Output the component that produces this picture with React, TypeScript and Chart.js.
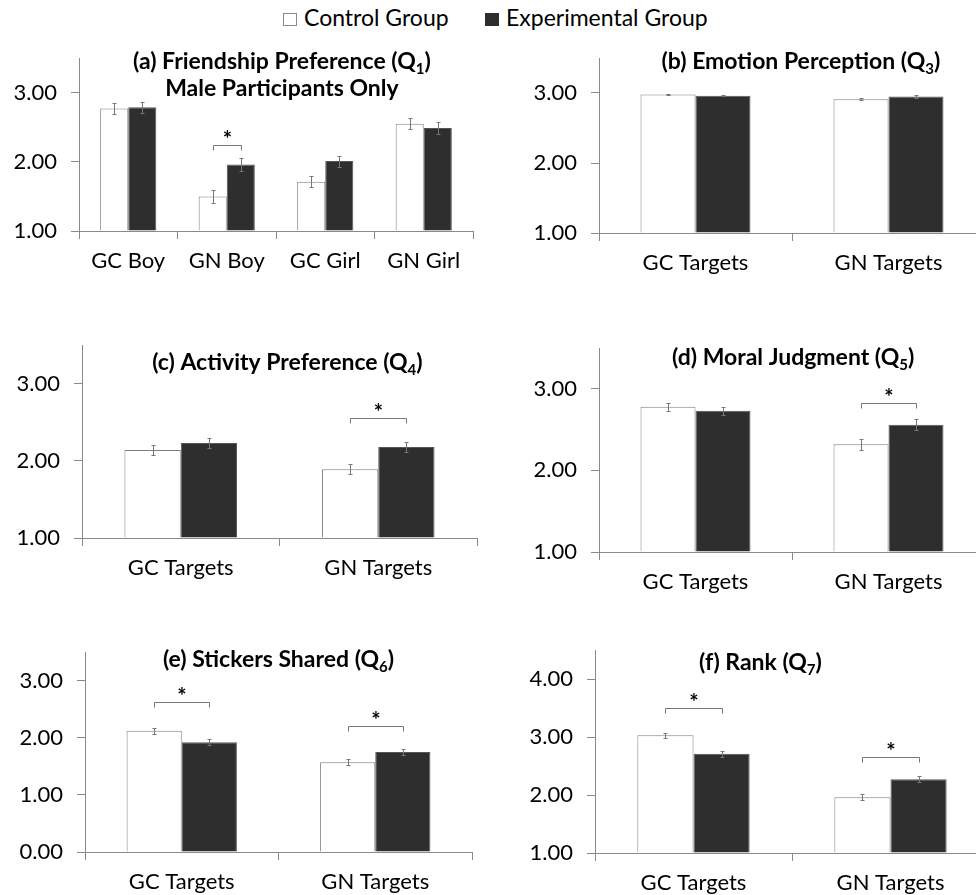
import React, { useEffect, useRef } from "react";
import { Chart, registerables } from "chart.js";

Chart.register(...registerables);

// ---------- data ----------
const seriesNames = ["Control Group", "Experimental Group"];

// (a) Friendship Preference
const catsA = ["GC Boy", "GN Boy", "GC Girl", "GN Girl"];
const ctrlA = [2.77, 1.5, 1.71, 2.55];
const expA = [2.79, 1.96, 2.01, 2.49];
const ctrlErrA = [0.08, 0.09, 0.08, 0.08];
const expErrA = [0.08, 0.09, 0.08, 0.085];
const sigA = [null, 2.25, null, null];
const ticksA = [1, 2, 3];

// (b) Emotion Perception
const catsB = ["GC Targets", "GN Targets"];
const ctrlB = [2.98, 2.91];
const expB = [2.96, 2.95];
const ctrlErrB = [0.01, 0.015];
const expErrB = [0.01, 0.015];
const sigB = [null, null];
const ticksB = [1, 2, 3];

// (c) Activity Preference
const catsC = ["GC Targets", "GN Targets"];
const ctrlC = [2.14, 1.89];
const expC = [2.23, 2.18];
const ctrlErrC = [0.06, 0.065];
const expErrC = [0.06, 0.065];
const sigC = [null, 2.56];
const ticksC = [1, 2, 3];

// (d) Moral Judgment
const catsD = ["GC Targets", "GN Targets"];
const ctrlD = [2.78, 2.32];
const expD = [2.73, 2.56];
const ctrlErrD = [0.05, 0.07];
const expErrD = [0.05, 0.07];
const sigD = [null, 2.82];
const ticksD = [1, 2, 3];

// (e) Stickers Shared
const catsE = ["GC Targets", "GN Targets"];
const ctrlE = [2.12, 1.57];
const expE = [1.92, 1.75];
const ctrlErrE = [0.05, 0.05];
const expErrE = [0.05, 0.05];
const sigE = [2.62, 2.2];
const ticksE = [0, 1, 2, 3];

// (f) Rank
const catsF = ["GC Targets", "GN Targets"];
const ctrlF = [3.03, 1.96];
const expF = [2.71, 2.27];
const ctrlErrF = [0.04, 0.05];
const expErrF = [0.05, 0.05];
const sigF = [3.5, 2.66];
const ticksF = [1, 2, 3, 4];

// ---------- style ----------
const FONT = "Lato, 'Open Sans', sans-serif";
const AXIS = "#8a8a8a";
const ERR = "#777777";
const DARK = "#2e2e2e";
const Y_W = 72;
const X_H = 48;
const PAD_T = 24;
const PAD_R = 2;

type Panel = {
  cats: string[];
  ctrl: number[];
  exp: number[];
  ctrlErr: number[];
  expErr: number[];
  sig: (number | null)[];
  yMin: number;
  yMax: number;
  yTicks: number[];
  title: string;
  sub: string;
  title2?: string;
  box: { x0: number; x1: number; top: number; bottom: number };
  titleFx: number;
  titleDy: number;
};

const panels: Panel[] = [
  { cats: catsA, ctrl: ctrlA, exp: expA, ctrlErr: ctrlErrA, expErr: expErrA, sig: sigA, yMin: 1, yMax: 3.5, yTicks: ticksA,
    title: "(a) Friendship Preference (Q", sub: "1", title2: "Male Participants Only",
    box: { x0: 79, x1: 473, top: 58, bottom: 231 }, titleFx: 0.515, titleDy: 4 },
  { cats: catsB, ctrl: ctrlB, exp: expB, ctrlErr: ctrlErrB, expErr: expErrB, sig: sigB, yMin: 1, yMax: 3.5, yTicks: ticksB,
    title: "(b) Emotion Perception (Q", sub: "3",
    box: { x0: 599, x1: 985, top: 58, bottom: 233 }, titleFx: 0.523, titleDy: 4 },
  { cats: catsC, ctrl: ctrlC, exp: expC, ctrlErr: ctrlErrC, expErr: expErrC, sig: sigC, yMin: 1, yMax: 3.5, yTicks: ticksC,
    title: "(c) Activity Preference (Q", sub: "4",
    box: { x0: 82, x1: 477, top: 345, bottom: 538 }, titleFx: 0.52, titleDy: 18 },
  { cats: catsD, ctrl: ctrlD, exp: expD, ctrlErr: ctrlErrD, expErr: expErrD, sig: sigD, yMin: 1, yMax: 3.5, yTicks: ticksD,
    title: "(d) Moral Judgment (Q", sub: "5",
    box: { x0: 599, x1: 985, top: 348, bottom: 552 }, titleFx: 0.503, titleDy: 10 },
  { cats: catsE, ctrl: ctrlE, exp: expE, ctrlErr: ctrlErrE, expErr: expErrE, sig: sigE, yMin: 0, yMax: 3.5, yTicks: ticksE,
    title: "(e) Stickers Shared (Q", sub: "6",
    box: { x0: 85, x1: 472, top: 652, bottom: 852 }, titleFx: 0.5, titleDy: 8 },
  { cats: catsF, ctrl: ctrlF, exp: expF, ctrlErr: ctrlErrF, expErr: expErrF, sig: sigF, yMin: 1, yMax: 4.5, yTicks: ticksF,
    title: "(f) Rank (Q", sub: "7",
    box: { x0: 595, x1: 989, top: 650, bottom: 853 }, titleFx: 0.42, titleDy: 13 },
];

function PanelChart({ p }: { p: Panel }) {
  const ref = useRef<HTMLCanvasElement>(null);
  const left = p.box.x0 - Y_W;
  const top = p.box.top - PAD_T;
  const width = p.box.x1 - p.box.x0 + Y_W + PAD_R;
  const height = p.box.bottom - p.box.top + PAD_T + X_H;

  useEffect(() => {
    if (!ref.current) return;
    const decor = {
      id: "decor",
      afterDatasetsDraw(chart: any) {
        const ctx = chart.ctx as CanvasRenderingContext2D;
        const ys = chart.scales.y;
        const area = chart.chartArea;
        ctx.save();
        // error bars
        [p.ctrlErr, p.expErr].forEach((errs, di) => {
          const vals = di === 0 ? p.ctrl : p.exp;
          const meta = chart.getDatasetMeta(di);
          meta.data.forEach((el: any, i: number) => {
            const x = Math.round(el.x) + 0.5;
            const y1 = Math.round(ys.getPixelForValue(vals[i] + errs[i])) + 0.5;
            const y2 = Math.round(ys.getPixelForValue(vals[i] - errs[i])) + 0.5;
            ctx.strokeStyle = ERR;
            ctx.lineWidth = 1;
            ctx.beginPath();
            ctx.moveTo(x, y1);
            ctx.lineTo(x, y2);
            ctx.moveTo(x - 2, y1);
            ctx.lineTo(x + 2, y1);
            ctx.moveTo(x - 2, y2);
            ctx.lineTo(x + 2, y2);
            ctx.stroke();
          });
        });
        // significance brackets
        p.sig.forEach((lvl, i) => {
          if (lvl == null) return;
          const xa = Math.round(chart.getDatasetMeta(0).data[i].x) + 0.5;
          const xb = Math.round(chart.getDatasetMeta(1).data[i].x) + 0.5;
          const y = Math.round(ys.getPixelForValue(lvl)) + 0.5;
          ctx.strokeStyle = ERR;
          ctx.lineWidth = 1;
          ctx.beginPath();
          ctx.moveTo(xa, y + 5);
          ctx.lineTo(xa, y);
          ctx.lineTo(xb, y);
          ctx.lineTo(xb, y + 5);
          ctx.stroke();
          ctx.fillStyle = "#000";
          ctx.font = `bold 22px ${FONT}`;
          ctx.textAlign = "center";
          ctx.textBaseline = "alphabetic";
          ctx.fillText("*", (xa + xb) / 2, y + 1);
        });
        // title
        const cx = area.left + p.titleFx * (area.right - area.left);
        const cy = area.top + p.titleDy;
        const mainFont = `bold 23px ${FONT}`;
        const subFont = `bold 15px ${FONT}`;
        ctx.fillStyle = "#000";
        ctx.textBaseline = "middle";
        ctx.textAlign = "left";
        ctx.font = mainFont;
        const w1 = ctx.measureText(p.title).width;
        const w3 = ctx.measureText(")").width;
        ctx.font = subFont;
        const w2 = ctx.measureText(p.sub).width;
        let x = cx - (w1 + w2 + w3) / 2;
        ctx.font = mainFont;
        ctx.fillText(p.title, x, cy);
        x += w1;
        ctx.font = subFont;
        ctx.fillText(p.sub, x, cy + 7);
        x += w2;
        ctx.font = mainFont;
        ctx.fillText(")", x, cy);
        if (p.title2) {
          ctx.textAlign = "center";
          ctx.fillText(p.title2, cx, cy + 27);
        }
        ctx.restore();
      },
    };

    const chart = new Chart(ref.current, {
      type: "bar",
      data: {
        labels: p.cats,
        datasets: [
          {
            label: seriesNames[0],
            data: p.ctrl,
            backgroundColor: "#ffffff",
            borderColor: "#808080",
            borderWidth: 1,
            base: p.yMin,
            categoryPercentage: 0.57,
            barPercentage: 1,
          },
          {
            label: seriesNames[1],
            data: p.exp,
            backgroundColor: DARK,
            borderColor: "#555555",
            borderWidth: 1,
            base: p.yMin,
            categoryPercentage: 0.57,
            barPercentage: 1,
          },
        ],
      },
      options: {
        animation: false,
        responsive: false,
        events: [],
        layout: { padding: { left: 0, right: PAD_R, top: PAD_T, bottom: 0 } },
        plugins: {
          legend: { display: false },
          tooltip: { enabled: false },
          title: { display: false },
        },
        scales: {
          x: {
            grid: { offset: true, drawOnChartArea: false, drawTicks: true, tickLength: 8, color: AXIS },
            border: { color: AXIS, width: 1 },
            ticks: { color: "#000", font: { family: FONT, size: 22 }, padding: 9, maxRotation: 0, autoSkip: false },
            afterFit: (s: any) => {
              s.height = X_H;
              s.paddingLeft = 0;
              s.paddingRight = 0;
            },
          },
          y: {
            min: p.yMin,
            max: p.yMax,
            afterBuildTicks: (s: any) => {
              s.ticks = p.yTicks.map((v) => ({ value: v }));
            },
            grid: { drawOnChartArea: false, drawTicks: true, tickLength: 8, color: AXIS },
            border: { color: AXIS, width: 1 },
            ticks: {
              color: "#000",
              font: { family: FONT, size: 22 },
              padding: 14,
              callback: (v: any) => Number(v).toFixed(2),
            },
            afterFit: (s: any) => {
              s.width = Y_W;
              s.paddingTop = 0;
              s.paddingBottom = 0;
            },
          },
        },
      } as any,
      plugins: [decor],
    });
    return () => chart.destroy();
  }, [p]);

  return (
    <canvas
      ref={ref}
      width={width}
      height={height}
      style={{ position: "absolute", left, top, width, height }}
    />
  );
}

export default function App() {
  return (
    <div
      style={{
        position: "fixed",
        left: 0,
        top: 0,
        width: 976,
        height: 895,
        overflow: "hidden",
        background: "#fff",
        fontFamily: FONT,
      }}
    >
      <div style={{ position: "absolute", left: 283, top: 13, width: 14, height: 13, boxSizing: "border-box", border: "1px solid #8a8a8a", background: "#fff" }} />
      <div style={{ position: "absolute", left: 304, top: 4, fontSize: 23, lineHeight: 1.2, color: "#000", whiteSpace: "nowrap" }}>{seriesNames[0]}</div>
      <div style={{ position: "absolute", left: 485, top: 13, width: 14, height: 13, background: DARK }} />
      <div style={{ position: "absolute", left: 506, top: 4, fontSize: 23, lineHeight: 1.2, color: "#000", whiteSpace: "nowrap" }}>{seriesNames[1]}</div>
      {panels.map((p, i) => (
        <PanelChart key={i} p={p} />
      ))}
    </div>
  );
}
